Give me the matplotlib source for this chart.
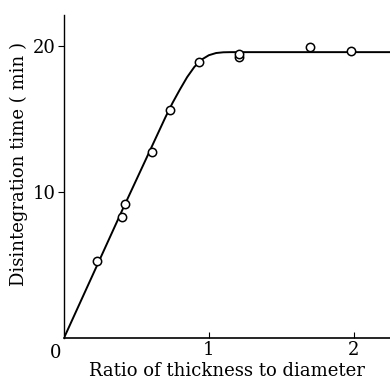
import matplotlib.pyplot as plt
import numpy as np

# measured points (ratio, disintegration time in min)
ratio = [0.23, 0.40, 0.42, 0.61, 0.73, 0.93, 1.21, 1.21, 1.70, 1.98]
time_min = [5.3, 8.3, 9.2, 12.7, 15.6, 18.9, 19.2, 19.4, 19.9, 19.65]

# fitted curve
curve_x = [0.0, 0.40, 0.70, 0.75, 0.80, 0.85, 0.90, 0.95, 1.00, 1.05, 1.10, 1.15, 2.25]
curve_y = [0.0, 8.7, 15.1, 16.1, 17.0, 17.85, 18.55, 19.05, 19.35, 19.5, 19.55, 19.56, 19.56]

x_ticks = [1, 2]
y_ticks = [10, 20]

plt.rcParams["font.family"] = ["DejaVu Serif"]

fig = plt.figure(figsize=(3.9, 3.85), dpi=100)
ax = fig.add_axes([0.164, 0.122, 0.836, 0.839])

ax.plot(curve_x, curve_y, color="black", lw=1.4, zorder=2)
ax.plot(ratio, time_min, "o", ms=6, mfc="white", mec="black", mew=1.1, zorder=3)

ax.set_xlim(0, 2.25)
ax.set_ylim(0, 22.1)
ax.spines["top"].set_visible(False)
ax.spines["right"].set_visible(False)
ax.spines["left"].set_linewidth(1.0)
ax.spines["bottom"].set_linewidth(1.2)

ax.set_xticks(x_ticks)
ax.set_xticklabels([str(t) for t in x_ticks])
ax.set_yticks(y_ticks)
ax.set_yticklabels([str(t) for t in y_ticks])
ax.tick_params(axis="x", direction="in", length=4, labelsize=13, pad=2)
ax.tick_params(axis="y", direction="out", length=4, labelsize=13, pad=2)

ax.text(-0.015, -0.4, "0", ha="right", va="top", fontsize=13)

ax.set_xlabel("Ratio of thickness to diameter", fontsize=13, labelpad=2)
ax.set_ylabel("Disintegration time ( min )", fontsize=13)
ax.yaxis.set_label_coords(-0.11, 0.54)

fig.savefig("out.png", dpi=100)
